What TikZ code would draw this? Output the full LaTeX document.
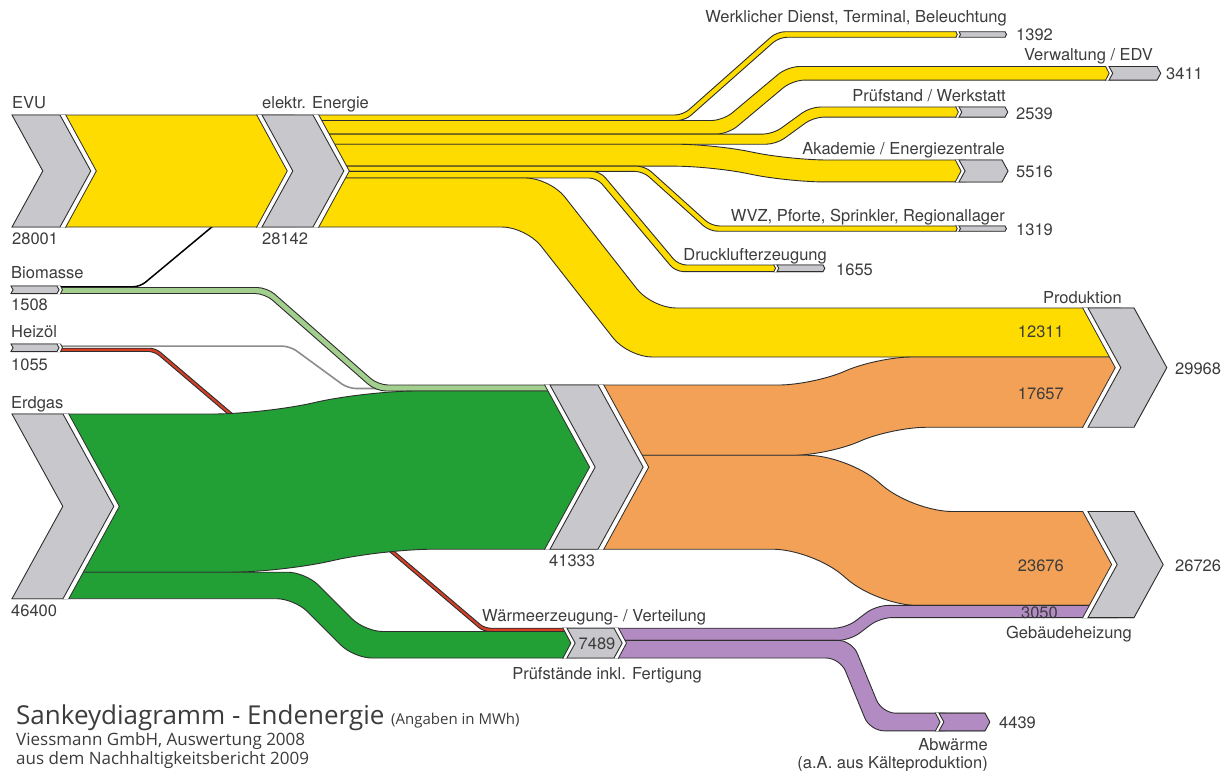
\documentclass[tikz,border=0pt]{standalone}
\usepackage{fontspec}
\setmainfont{TeX Gyre Heros}
\newfontfamily\titlefont{Open Sans}
\definecolor{evuyellow}{HTML}{FFDC00}
\definecolor{chevgrey}{HTML}{C8C8CC}
\definecolor{gasgreen}{HTML}{22A036}
\definecolor{biogreen}{HTML}{A2CE8E}
\definecolor{heatorange}{HTML}{F3A157}
\definecolor{lilac}{HTML}{B38BC3}
\definecolor{oilred}{HTML}{D63F26}
\definecolor{edgecol}{HTML}{2E2E2E}
\definecolor{greyline}{HTML}{8C8C8C}
\definecolor{labeltext}{HTML}{3C3C3C}
\tikzset{
  bandedge/.style={draw=edgecol, line width=0.9pt, line join=round},
  lbl/.style={font=\fontsize{16.5}{19}\selectfont, text=labeltext, inner sep=0pt},
  ttl/.style={font=\titlefont\fontsize{26}{30}\selectfont, text=labeltext, inner sep=0pt},
  sub/.style={font=\titlefont\fontsize{17}{20}\selectfont, text=labeltext, inner sep=0pt}
}
% band: #1 colour, #2 x0, #3 y1 centre, #4 xa, #5 y2 centre, #6 xb, #7 x1, #8 width, #9 radius
\newcommand\band[9]{%
  \pgfmathsetmacro\bandhw{#8/2}%
  \pgfmathsetmacro\bandphi{atan(abs(#5-#3)/(#6-#4))}%
  \pgfmathsetmacro\bandsg{(#5>#3)?1:-1}%
  \pgfmathsetmacro\bandt{\bandsg*\bandhw*tan(\bandphi/2)}%
  \begin{scope}
    \clip (#2,-50) rectangle (#7,850);
    \filldraw[bandedge, fill=#1, rounded corners=#9pt]
      ({#2-60},{#3-\bandhw}) -- ({#4+\bandt},{#3-\bandhw}) -- ({#6+\bandt},{#5-\bandhw}) -- ({#7+60},{#5-\bandhw})
      -- ({#7+60},{#5+\bandhw}) -- ({#6-\bandt},{#5+\bandhw}) -- ({#4-\bandt},{#3+\bandhw}) -- ({#2-60},{#3+\bandhw}) -- cycle;
  \end{scope}}
% chevron: #1 x top-left, #2 y top, #3 y bottom, #4 width, #5 left cut, #6 right cut, #7 fill, #8 name
\newcommand\chev[8]{%
  \pgfmathsetmacro\chd{0.55*(#3-#2)/2}%
  \pgfmathsetmacro\chyc{(#2+#3)/2}%
  \pgfmathsetmacro\chxr{#1+#4}%
  \pgfmathsetmacro\chgw{2.4+min(#3-#2,60)/24}%
  \pgfmathsetmacro\chgd{\chgw+1.1}%
  \fill[edgecol] ({#1-#5*\chgd},{#2-0.5}) -- ({\chxr+#6*\chgd},{#2-0.5}) -- ({\chxr+\chd+#6*\chgd},\chyc)
     -- ({\chxr+#6*\chgd},{#3+0.5}) -- ({#1-#5*\chgd},{#3+0.5}) -- ({#1+\chd-#5*\chgd},\chyc) -- cycle;
  \fill[white] ({#1-#5*\chgw},{#2-0.5}) -- ({\chxr+#6*\chgw},{#2-0.5}) -- ({\chxr+\chd+#6*\chgw},\chyc)
     -- ({\chxr+#6*\chgw},{#3+0.5}) -- ({#1-#5*\chgw},{#3+0.5}) -- ({#1+\chd-#5*\chgw},\chyc) -- cycle;
  \filldraw[fill=#7, draw=edgecol, line width=0.9pt, line join=miter]
     (#1,#2) -- (\chxr,#2) -- ({\chxr+\chd},\chyc) -- (\chxr,#3) -- (#1,#3) -- ({#1+\chd},\chyc) -- cycle;
  \coordinate (#8) at ({#1+#4/2},\chyc);}
\begin{document}
\begin{tikzpicture}[x=1pt,y=-1pt]
\useasboundingbox (0,0) rectangle (1224,771);
\fill[white] (0,0) rectangle (1224,771);
% thin lines
\draw[line width=1.5pt, black, rounded corners=7pt] (55,286.8) -- (140,286.8) -- (216,223.5);
\draw[line width=1.6pt, greyline, rounded corners=8pt] (55,346.1) -- (290,346.1) -- (348,388.5) -- (390,388.5);
% oil, biomass, gas
\band{oilred}{58}{349.85}{155}{629.85}{484}{576}{3.3}{6}
\band{biogreen}{58}{290.5}{266}{388}{377}{596}{6}{10}
\band{gasgreen}{63}{493.1}{272}{470.1}{375}{596}{158.2}{50}
\band{gasgreen}{63}{585.45}{300}{644.75}{359.3}{576}{26.5}{18}
% electricity
\band{evuyellow}{61}{171}{100}{171}{200}{294}{112}{1}
\band{evuyellow}{314}{117.77}{684}{34.5}{778}{961.5}{5.54}{8}
\band{evuyellow}{314}{127.33}{725.5}{73.3}{790}{1113}{13.58}{12}
\band{evuyellow}{314}{139.17}{774.6}{112.05}{812}{962.5}{10.1}{10}
\band{evuyellow}{314}{155.2}{712}{170.97}{790}{966}{21.95}{36}
\band{evuyellow}{314}{168.8}{644}{228.6}{710.5}{961.5}{5.25}{8}
\band{evuyellow}{314}{174.7}{598.5}{268.3}{677}{779.5}{6.59}{8}
\band{evuyellow}{314}{202.5}{538}{332.5}{640}{1121}{49}{24}
% heat
\band{heatorange}{599}{420.14}{820}{392.14}{885}{1121}{70.27}{34}
\band{heatorange}{599}{502.24}{830}{558.47}{895}{1118}{93.93}{40}
\band{lilac}{610}{634.27}{848}{611.5}{878}{1118}{12.14}{12}
\band{lilac}{610}{649.17}{846}{722}{876}{945}{17.67}{14}
% chevrons
\chev{12}{115}{227}{48}{0}{1}{chevgrey}{evu}
\chev{262}{115}{227}{51}{1}{1}{chevgrey}{elektr}
\chev{11}{286}{293.5}{46}{0}{1}{chevgrey}{bio}
\chev{11}{344}{351.5}{46}{0}{1}{chevgrey}{oil}
\chev{12}{414}{598.7}{51}{0}{1}{chevgrey}{gas}
\chev{550}{385}{549.2}{48}{1}{1}{chevgrey}{mid}
\chev{959}{31.73}{37.27}{46}{1}{0}{chevgrey}{c1392}
\chev{1109}{66.51}{80.09}{48}{1}{0}{chevgrey}{c3411}
\chev{959}{107}{117.1}{46}{1}{0}{chevgrey}{c2539}
\chev{959}{160}{181.95}{43}{1}{0}{chevgrey}{c5516}
\chev{959}{225.98}{231.23}{46}{1}{0}{chevgrey}{c1319}
\chev{777}{265}{271.6}{46}{1}{0}{chevgrey}{c1655}
\chev{1088}{308}{427.27}{46}{1}{0}{chevgrey}{prod}
\chev{1088}{511.5}{617.57}{46}{1}{0}{chevgrey}{c26726}
\chev{567}{628.2}{658}{47}{1}{1}{chevgrey}{c7489}
\chev{939}{713.17}{730.83}{46}{1}{0}{lilac}{c4439}
% labels left
\node[lbl, anchor=base west] (tevu) at (12,108) {EVU};
\node[lbl, anchor=base west] (v28001) at (12,244) {28001};
\node[lbl, anchor=base west] (tel) at (262,108) {elektr. Energie};
\node[lbl, anchor=base west] (v28142) at (262,244) {28142};
\node[lbl, anchor=base west] (tbio) at (11,278) {Biomasse};
\node[lbl, anchor=base west] (v1508) at (11,310) {1508};
\node[lbl, anchor=base west] (toil) at (11,337) {Heizöl};
\node[lbl, anchor=base west] (v1055) at (11,370) {1055};
\node[lbl, anchor=base west] (tgas) at (11,408) {Erdgas};
\node[lbl, anchor=base west] (v46400) at (11,616) {46400};
\node[lbl, anchor=base west] (v41333) at (549,566) {41333};
% labels right
\node[lbl, anchor=base east] (t1) at (1007,23) {Werklicher Dienst, Terminal, Beleuchtung};
\node[lbl, anchor=base west] (v1392) at (1016,40) {1392};
\node[lbl, anchor=base east] (t2) at (1153,60) {Verwaltung / EDV};
\node[lbl, anchor=base west] (v3411) at (1166,79) {3411};
\node[lbl, anchor=base east] (t3) at (1006,101) {Prüfstand / Werkstatt};
\node[lbl, anchor=base west] (v2539) at (1016,119) {2539};
\node[lbl, anchor=base east] (t4) at (1005,154) {Akademie / Energiezentrale};
\node[lbl, anchor=base west] (v5516) at (1016,177) {5516};
\node[lbl, anchor=base east] (t5) at (1005,221) {WVZ, Pforte, Sprinkler, Regionallager};
\node[lbl, anchor=base west] (v1319) at (1016,235) {1319};
\node[lbl, anchor=base east] (t6) at (827,260) {Drucklufterzeugung};
\node[lbl, anchor=base west] (v1655) at (836,275) {1655};
\node[lbl, anchor=base east] (tprod) at (1122,303) {Produktion};
\node[lbl, anchor=base east] (v12311) at (1064,337) {12311};
\node[lbl, anchor=base east] (v17657) at (1064,399) {17657};
\node[lbl, anchor=base west] (v29968) at (1175,374) {29968};
\node[lbl, anchor=base east] (v23676) at (1064,571) {23676};
\node[lbl, anchor=base west] (v26726) at (1175,571) {26726};
\node[lbl, anchor=base east] (v3050) at (1058,618) {3050};
\node[lbl, anchor=base east] (tgeb) at (1132,638) {Gebäudeheizung};
\node[lbl, anchor=base west] (twaerme) at (482,621) {Wärmeerzeugung- / Verteilung};
\node[lbl, anchor=base] (v7489) at (597,649) {7489};
\node[lbl, anchor=base east] (tpruef) at (702,679) {Prüfstände inkl. Fertigung};
\node[lbl, anchor=base west] (v4439) at (999,728) {4439};
\node[lbl, anchor=base east] (tabw) at (988,750) {Abwärme};
\node[lbl, anchor=base east] (tkaelte) at (988,768) {(a.A. aus Kälteproduktion)};
% title block
\node[ttl, anchor=base west] (title) at (16,724) {Sankeydiagramm - Endenergie {\fontsize{15}{18}\selectfont (Angaben in MWh)}};
\node[sub, anchor=base west] (sub1) at (16,745) {Viessmann GmbH, Auswertung 2008};
\node[sub, anchor=base west] (sub2) at (16,764) {aus dem Nachhaltigkeitsbericht 2009};
\end{tikzpicture}
\end{document}
